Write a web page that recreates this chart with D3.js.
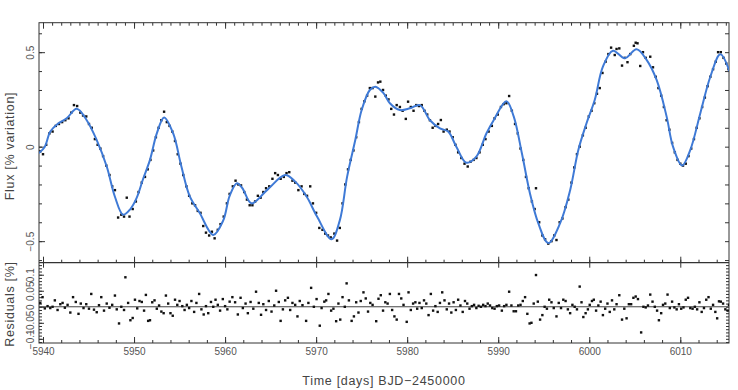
<!DOCTYPE html>
<html>
<head>
    <meta charset="utf-8">
    <script src="https://d3js.org/d3.v7.min.js"></script>
    <style type="text/css">
        body { margin: 0; background: #fff; }
        svg { display: block; font-family: "Liberation Sans", Arial, sans-serif; }
        .domain { stroke: none; }
        .tick line { stroke: #333; stroke-width: 1; }
        .tick text { fill: #555; font-size: 10px; }
        .title { fill: #444; font-size: 12.5px; letter-spacing: 0.7px; }
    </style>
</head>
<body>
<script type="text/javascript">

    var w = 738;
    var h = 390;

    // x tick labels (days, BJD-2450000)
    var timeTicks = [5940, 5950, 5960, 5970, 5980, 5990, 6000, 6010];
    var fluxTicks = [-0.5, 0, 0.5];
    var residTicks = [-0.1, -0.05, 0, 0.05, 0.1];

    // smooth model curve, knots [time, flux %]
    var modelCurve = [
        [5939.55, -0.034], [5940.2, 0.0], [5940.8, 0.08], [5941.6, 0.12], [5942.6, 0.15],
        [5943.7, 0.20], [5944.8, 0.14], [5945.9, 0.035], [5947.0, -0.105], [5947.9, -0.265],
        [5948.8, -0.36], [5949.6, -0.33], [5950.3, -0.27], [5951.0, -0.17], [5951.75, -0.07],
        [5952.5, 0.07], [5953.3, 0.155], [5954.3, 0.07], [5955.2, -0.105], [5956.1, -0.26],
        [5957.2, -0.35], [5958.7, -0.467], [5959.8, -0.39], [5960.5, -0.26], [5961.3, -0.194],
        [5961.9, -0.22], [5962.9, -0.30], [5964.6, -0.23], [5966.6, -0.15], [5967.7, -0.185],
        [5968.97, -0.265], [5970.1, -0.37], [5971.7, -0.49], [5972.6, -0.39], [5973.4, -0.16],
        [5974.3, 0.035], [5975.0, 0.194], [5975.9, 0.30], [5976.5, 0.317], [5977.4, 0.283],
        [5978.1, 0.23], [5979.2, 0.194], [5980.3, 0.203], [5981.4, 0.22], [5982.5, 0.14],
        [5983.6, 0.097], [5984.5, 0.08], [5985.4, 0.0], [5986.5, -0.085], [5987.6, -0.053],
        [5988.7, 0.07], [5989.5, 0.14], [5990.9, 0.24], [5991.7, 0.16], [5992.6, -0.035],
        [5993.5, -0.25], [5994.4, -0.405], [5995.5, -0.51], [5996.8, -0.405], [5997.9, -0.23],
        [5998.8, -0.017], [5999.7, 0.124], [6000.6, 0.247], [6001.5, 0.423], [6002.6, 0.508],
        [6003.9, 0.468], [6005.2, 0.515], [6006.3, 0.459], [6007.4, 0.353], [6008.5, 0.159],
        [6009.2, 0.0], [6010.2, -0.10], [6011.1, -0.017], [6012.2, 0.177], [6013.3, 0.37],
        [6014.4, 0.489], [6015.4, 0.40]
    ];

    // observed flux points [time, flux %]
    var fluxPoints = [
        [5939.7, -0.025], [5940.0, -0.04], [5940.35, 0.01], [5940.7, 0.07], [5941.05, 0.08],
        [5941.4, 0.11], [5941.75, 0.12], [5942.1, 0.13], [5942.45, 0.14], [5942.8, 0.15],
        [5943.1, 0.18], [5943.4, 0.22], [5943.75, 0.215], [5944.1, 0.18], [5944.4, 0.165],
        [5944.75, 0.16], [5945.05, 0.12], [5945.35, 0.10], [5945.7, 0.04], [5946.0, 0.01],
        [5946.3, -0.01], [5946.6, -0.05], [5946.95, -0.10], [5947.3, -0.15], [5947.6, -0.21],
        [5947.9, -0.23], [5948.25, -0.375], [5948.6, -0.36], [5948.9, -0.37], [5949.2, -0.27],
        [5949.5, -0.37], [5949.85, -0.33], [5950.2, -0.29], [5950.5, -0.24], [5950.85, -0.19],
        [5951.2, -0.16], [5951.5, -0.12], [5951.8, -0.07], [5952.1, -0.02], [5952.4, 0.05],
        [5952.7, 0.10], [5953.0, 0.14], [5953.3, 0.185], [5953.6, 0.13], [5953.9, 0.11],
        [5954.2, 0.08], [5954.5, 0.03], [5954.8, -0.04], [5955.1, -0.09], [5955.4, -0.15],
        [5955.75, -0.21], [5956.05, -0.26], [5956.4, -0.30], [5956.7, -0.31], [5957.0, -0.34],
        [5957.3, -0.35], [5957.6, -0.42], [5957.9, -0.455], [5958.25, -0.47], [5958.55, -0.45],
        [5958.85, -0.485], [5959.2, -0.44], [5959.5, -0.41], [5959.85, -0.37], [5960.2, -0.30],
        [5960.5, -0.25], [5960.85, -0.21], [5961.15, -0.18], [5961.45, -0.20], [5961.75, -0.205],
        [5962.1, -0.24], [5962.4, -0.28], [5962.7, -0.31], [5963.0, -0.31], [5963.3, -0.29],
        [5963.6, -0.26], [5963.9, -0.27], [5964.2, -0.24], [5964.5, -0.22], [5964.85, -0.21],
        [5965.2, -0.17], [5965.5, -0.14], [5965.8, -0.15], [5966.1, -0.17], [5966.45, -0.16],
        [5966.75, -0.14], [5967.05, -0.135], [5967.4, -0.18], [5967.7, -0.19], [5968.05, -0.23],
        [5968.4, -0.21], [5968.7, -0.25], [5969.0, -0.26], [5969.35, -0.21], [5969.65, -0.30],
        [5970.0, -0.35], [5970.35, -0.43], [5970.7, -0.44], [5971.0, -0.46], [5971.3, -0.47],
        [5971.6, -0.48], [5972.0, -0.46], [5972.3, -0.497], [5972.6, -0.43], [5972.9, -0.30],
        [5973.2, -0.20], [5973.5, -0.12], [5973.8, -0.07], [5974.1, -0.02], [5974.4, 0.05],
        [5974.7, 0.13], [5975.0, 0.20], [5975.3, 0.24], [5975.6, 0.27], [5975.9, 0.31],
        [5976.2, 0.31], [5976.5, 0.265], [5976.8, 0.34], [5977.05, 0.344], [5977.35, 0.30],
        [5977.65, 0.27], [5977.95, 0.25], [5978.25, 0.20], [5978.55, 0.17], [5978.85, 0.22],
        [5979.2, 0.21], [5979.5, 0.19], [5979.85, 0.147], [5980.1, 0.238], [5980.4, 0.21],
        [5980.7, 0.19], [5981.0, 0.22], [5981.3, 0.215], [5981.6, 0.22], [5981.9, 0.19],
        [5982.2, 0.17], [5982.5, 0.14], [5982.8, 0.10], [5983.1, 0.11], [5983.4, 0.12],
        [5983.7, 0.141], [5984.0, 0.08], [5984.35, 0.09], [5984.65, 0.08], [5985.0, 0.05],
        [5985.3, 0.01], [5985.6, -0.03], [5985.95, -0.06], [5986.3, -0.09], [5986.65, -0.105],
        [5986.95, -0.08], [5987.3, -0.07], [5987.6, -0.06], [5987.95, -0.03], [5988.3, 0.01],
        [5988.6, 0.04], [5988.95, 0.08], [5989.3, 0.11], [5989.6, 0.15], [5989.95, 0.17],
        [5990.3, 0.21], [5990.6, 0.225], [5990.9, 0.23], [5991.2, 0.268], [5991.5, 0.19],
        [5991.85, 0.12], [5992.15, 0.07], [5992.45, -0.01], [5992.75, -0.07], [5993.05, -0.16],
        [5993.35, -0.22], [5993.7, -0.29], [5994.0, -0.33], [5994.15, -0.22], [5994.5, -0.40],
        [5994.85, -0.47], [5995.15, -0.49], [5995.5, -0.513], [5995.85, -0.50], [5996.15, -0.47],
        [5996.4, -0.494], [5996.75, -0.40], [5997.05, -0.38], [5997.4, -0.32], [5997.7, -0.28],
        [5998.05, -0.19], [5998.35, -0.11], [5998.65, -0.04], [5998.95, 0.00], [5999.3, 0.06],
        [5999.6, 0.10], [5999.95, 0.16], [6000.25, 0.19], [6000.55, 0.23], [6000.85, 0.28],
        [6001.15, 0.31], [6001.45, 0.39], [6001.8, 0.45], [6002.1, 0.49], [6002.4, 0.524],
        [6002.8, 0.485], [6003.0, 0.517], [6003.3, 0.52], [6003.6, 0.429], [6003.9, 0.47],
        [6004.2, 0.447], [6004.5, 0.49], [6004.9, 0.534], [6005.1, 0.55], [6005.3, 0.547],
        [6005.6, 0.427], [6005.9, 0.50], [6006.2, 0.47], [6006.7, 0.476], [6007.0, 0.42],
        [6007.3, 0.37], [6007.6, 0.31], [6007.9, 0.27], [6008.2, 0.21], [6008.5, 0.14],
        [6008.8, 0.09], [6009.1, 0.02], [6009.4, -0.03], [6009.7, -0.07], [6010.0, -0.09],
        [6010.3, -0.10], [6010.6, -0.09], [6010.9, -0.05], [6011.2, -0.01], [6011.5, 0.04],
        [6011.8, 0.10], [6012.1, 0.15], [6012.4, 0.21], [6012.7, 0.26], [6013.0, 0.32],
        [6013.3, 0.37], [6013.6, 0.41], [6013.9, 0.45], [6014.15, 0.50], [6014.45, 0.50],
        [6014.75, 0.47], [6015.05, 0.44], [6015.3, 0.41]
    ];

    // residuals [time, %]
    var residPoints = [
        [5939.7, 0.012], [5939.95, 0.03], [5940.2, -0.005], [5940.5, 0.002], [5940.8, -0.004],
        [5941.05, 0.0], [5941.3, 0.02], [5941.6, -0.01], [5941.9, 0.008], [5942.15, 0.012],
        [5942.4, -0.003], [5942.7, 0.006], [5943.0, -0.018], [5943.3, 0.03], [5943.6, 0.015],
        [5943.9, -0.022], [5944.15, 0.01], [5944.45, -0.004], [5944.75, 0.008], [5945.05, -0.006],
        [5945.3, 0.04], [5945.6, -0.009], [5945.9, -0.017], [5946.15, 0.005], [5946.4, 0.03],
        [5946.7, -0.012], [5947.0, 0.01], [5947.3, -0.003], [5947.6, 0.006], [5947.9, 0.035],
        [5948.1, -0.008], [5948.35, -0.052], [5948.6, 0.0], [5948.9, -0.01], [5949.05, 0.092],
        [5949.35, 0.012], [5949.6, -0.042], [5949.85, -0.035], [5950.1, 0.022], [5950.35, -0.005],
        [5950.6, 0.018], [5950.85, 0.015], [5951.1, -0.012], [5951.3, 0.037], [5951.55, -0.044],
        [5951.75, -0.042], [5952.0, 0.014], [5952.25, 0.02], [5952.5, -0.006], [5952.75, 0.004],
        [5953.0, -0.015], [5953.25, -0.02], [5953.5, 0.035], [5953.75, 0.01], [5954.0, -0.02],
        [5954.25, -0.028], [5954.5, 0.022], [5954.75, 0.006], [5955.0, 0.018], [5955.3, 0.002],
        [5955.55, -0.01], [5955.8, 0.006], [5956.05, -0.004], [5956.3, 0.018], [5956.6, -0.016],
        [5956.85, 0.012], [5957.15, 0.04], [5957.4, -0.008], [5957.65, -0.024], [5957.9, 0.002],
        [5958.15, -0.02], [5958.45, 0.015], [5958.7, 0.0], [5958.95, 0.022], [5959.2, 0.006],
        [5959.45, -0.012], [5959.75, 0.024], [5960.0, 0.002], [5960.25, -0.008], [5960.5, 0.016],
        [5960.8, 0.03], [5961.1, 0.014], [5961.4, -0.024], [5961.7, 0.028], [5961.95, -0.004],
        [5962.25, 0.01], [5962.5, -0.02], [5962.8, 0.015], [5963.1, -0.006], [5963.4, 0.047],
        [5963.7, 0.012], [5963.95, -0.025], [5964.2, 0.008], [5964.5, -0.01], [5964.8, 0.018],
        [5965.1, -0.015], [5965.4, 0.004], [5965.6, 0.05], [5965.9, 0.015], [5966.1, -0.044],
        [5966.35, -0.008], [5966.6, 0.02], [5966.9, 0.028], [5967.15, -0.01], [5967.4, 0.012],
        [5967.7, 0.006], [5967.95, -0.03], [5968.2, 0.018], [5968.5, 0.005], [5968.9, -0.044],
        [5969.15, 0.012], [5969.45, 0.059], [5969.75, 0.0], [5970.05, 0.024], [5970.4, -0.059],
        [5970.6, -0.004], [5970.9, 0.016], [5971.1, 0.02], [5971.35, 0.04], [5971.65, -0.012],
        [5971.9, -0.006], [5972.2, -0.045], [5972.45, 0.01], [5972.65, -0.04], [5972.9, 0.03],
        [5973.15, 0.0], [5973.35, 0.073], [5973.6, 0.02], [5973.9, -0.044], [5974.15, -0.03],
        [5974.4, 0.014], [5974.65, -0.018], [5974.9, 0.018], [5975.2, 0.045], [5975.45, 0.026],
        [5975.7, -0.015], [5975.95, 0.012], [5976.2, 0.006], [5976.6, -0.045], [5976.85, 0.025],
        [5977.1, 0.036], [5977.35, -0.012], [5977.6, 0.014], [5977.85, 0.01], [5978.1, 0.04],
        [5978.35, -0.01], [5978.6, -0.03], [5978.85, -0.04], [5979.1, 0.04], [5979.35, 0.026],
        [5979.6, 0.006], [5979.95, -0.047], [5980.15, 0.045], [5980.4, -0.01], [5980.65, 0.01],
        [5980.9, 0.014], [5981.1, -0.006], [5981.35, 0.012], [5981.6, -0.004], [5981.85, 0.02],
        [5982.1, 0.01], [5982.35, -0.026], [5982.6, 0.04], [5982.85, -0.012], [5983.1, 0.002],
        [5983.35, -0.016], [5983.6, 0.012], [5983.85, 0.045], [5984.1, 0.02], [5984.35, -0.008],
        [5984.6, 0.01], [5984.85, -0.018], [5985.1, 0.014], [5985.35, -0.01], [5985.6, 0.022],
        [5985.85, 0.004], [5986.1, -0.016], [5986.35, 0.018], [5986.6, 0.01], [5986.85, -0.006],
        [5987.1, 0.002], [5987.35, 0.006], [5987.6, -0.004], [5987.85, 0.003], [5988.1, 0.0],
        [5988.35, 0.006], [5988.6, 0.002], [5988.85, 0.01], [5989.1, 0.004], [5989.35, -0.004],
        [5989.6, -0.006], [5989.85, 0.002], [5990.1, 0.004], [5990.4, -0.012], [5990.65, 0.002],
        [5990.9, 0.006], [5991.2, 0.047], [5991.45, 0.004], [5991.7, -0.014], [5991.95, -0.014],
        [5992.2, 0.004], [5992.45, 0.006], [5992.7, 0.018], [5992.95, 0.03], [5993.2, -0.022],
        [5993.45, -0.052], [5993.65, -0.05], [5993.9, 0.01], [5994.15, 0.099], [5994.35, 0.016],
        [5994.6, -0.04], [5994.85, -0.026], [5995.1, 0.0], [5995.35, -0.006], [5995.6, 0.022],
        [5995.85, 0.014], [5996.1, -0.004], [5996.4, -0.03], [5996.65, 0.012], [5996.9, -0.004],
        [5997.15, 0.022], [5997.4, 0.018], [5997.65, -0.008], [5997.9, -0.02], [5998.15, 0.006],
        [5998.4, 0.0], [5998.65, -0.008], [5998.95, 0.063], [5999.15, 0.014], [5999.35, -0.032],
        [5999.6, -0.02], [5999.85, -0.008], [6000.05, 0.006], [6000.3, 0.018], [6000.5, 0.022],
        [6000.75, -0.012], [6001.0, 0.004], [6001.25, 0.016], [6001.5, -0.026], [6001.75, -0.006],
        [6002.0, 0.01], [6002.25, -0.016], [6002.5, 0.02], [6002.75, -0.008], [6003.0, 0.008],
        [6003.3, 0.036], [6003.6, -0.04], [6003.85, -0.006], [6004.1, -0.036], [6004.35, 0.008],
        [6004.6, 0.008], [6004.85, 0.028], [6005.1, 0.032], [6005.35, 0.024], [6005.7, -0.08],
        [6005.95, 0.0], [6006.2, -0.002], [6006.45, 0.004], [6006.7, 0.038], [6006.95, 0.016],
        [6007.2, 0.0], [6007.45, -0.012], [6007.65, -0.042], [6007.9, -0.02], [6008.1, 0.006],
        [6008.35, 0.01], [6008.6, 0.038], [6008.85, -0.004], [6009.1, 0.016], [6009.35, -0.002],
        [6009.6, -0.008], [6009.85, 0.008], [6010.1, -0.006], [6010.35, -0.002], [6010.6, 0.022],
        [6010.85, 0.028], [6011.1, -0.004], [6011.35, -0.006], [6011.6, 0.0], [6011.85, -0.008],
        [6012.1, 0.014], [6012.35, -0.016], [6012.6, -0.004], [6012.85, 0.022], [6013.1, 0.03],
        [6013.35, -0.006], [6013.6, 0.006], [6013.85, -0.016], [6014.05, -0.036], [6014.25, 0.017],
        [6014.45, 0.016], [6014.7, 0.01], [6014.95, -0.008], [6015.2, -0.012], [6015.35, 0.006]
    ];

    // panel layout
    var left = 39, right = 729;
    var topY = 22.7, midY = 262.7, botY = 343;

    var svg = d3.select("body").append("svg")
        .attr("width", w)
        .attr("height", h);

    var xScale = d3.scaleLinear().domain([5939.56, 6015.35]).range([left, right]);
    var yFlux = d3.scaleLinear().domain([-0.614, 0.656]).range([midY, topY]);
    var yRes = d3.scaleLinear().domain([-0.113, 0.1375]).range([botY, midY]);

    svg.append("defs").append("clipPath").attr("id", "clipTop")
        .append("rect").attr("x", left).attr("y", topY)
        .attr("width", right - left).attr("height", midY - topY);
    svg.select("defs").append("clipPath").attr("id", "clipBot")
        .append("rect").attr("x", left).attr("y", midY)
        .attr("width", right - left).attr("height", botY - midY);

    var fmt = function(d) { return d3.format("~g")(d); };

    // minor tick lists
    var dayTicks = d3.range(5940, 6016, 1);
    var twoDayTicks = d3.range(5940, 6016, 2);
    var fluxMinor = d3.range(-6, 7).map(function(d) { return d / 10; });
    var resMinor = d3.range(-11, 14).map(function(d) { return d / 100; });

    function addAxis(axis, tx, ty) {
        return svg.append("g").attr("transform", "translate(" + tx + "," + ty + ")").call(axis);
    }

    // top edge of flux panel
    addAxis(d3.axisTop(xScale).tickValues(dayTicks).tickSize(-3).tickFormat(""), 0, topY);
    addAxis(d3.axisTop(xScale).tickValues(timeTicks).tickSize(-6).tickFormat(""), 0, topY);
    // boundary between panels
    addAxis(d3.axisTop(xScale).tickValues(twoDayTicks).tickSize(3).tickFormat(""), 0, midY);
    addAxis(d3.axisTop(xScale).tickValues(timeTicks).tickSize(6).tickFormat(""), 0, midY);
    addAxis(d3.axisBottom(xScale).tickValues(timeTicks).tickSize(5).tickFormat(""), 0, midY);
    // bottom axis
    addAxis(d3.axisBottom(xScale).tickValues(twoDayTicks).tickSize(-3).tickFormat(""), 0, botY);
    addAxis(d3.axisBottom(xScale).tickValues(timeTicks).tickSize(-6).tickPadding(5).tickFormat(fmt), 0, botY);

    // flux y axes
    addAxis(d3.axisLeft(yFlux).tickValues(fluxMinor).tickSize(-3).tickFormat(""), left, 0);
    var fluxAxis = addAxis(d3.axisLeft(yFlux).tickValues(fluxTicks).tickSize(-6).tickFormat(fmt), left, 0);
    addAxis(d3.axisRight(yFlux).tickValues(fluxMinor).tickSize(-4).tickFormat(""), right, 0);

    // residual y axes
    addAxis(d3.axisLeft(yRes).tickValues(resMinor).tickSize(-3).tickFormat(""), left, 0);
    var resAxis = addAxis(d3.axisLeft(yRes).tickValues(residTicks).tickSize(-5).tickFormat(fmt), left, 0);
    addAxis(d3.axisRight(yRes).tickValues(resMinor).tickSize(-3).tickFormat(""), right, 0);

    // rotate y tick labels like the original
    [fluxAxis, resAxis].forEach(function(g) {
        g.selectAll(".tick text")
            .attr("transform", "rotate(-90)")
            .attr("x", 0)
            .attr("y", -5.5)
            .attr("dy", 0)
            .attr("text-anchor", "middle");
    });

    // frames
    svg.append("rect").attr("x", left).attr("y", topY)
        .attr("width", right - left).attr("height", botY - topY)
        .attr("fill", "none").attr("stroke", "#333").attr("stroke-width", 1);
    svg.append("line").attr("x1", left).attr("x2", right)
        .attr("y1", midY).attr("y2", midY)
        .attr("stroke", "#333").attr("stroke-width", 1.2);

    // zero line of residuals
    svg.append("line").attr("x1", left).attr("x2", right)
        .attr("y1", yRes(0)).attr("y2", yRes(0))
        .attr("stroke", "#444").attr("stroke-width", 1);

    // flux data points
    var topG = svg.append("g").attr("clip-path", "url(#clipTop)");
    topG.selectAll("rect.pt")
        .data(fluxPoints)
        .enter()
        .append("rect")
        .attr("class", "pt")
        .attr("x", function(d) { return xScale(d[0]) - 1.2; })
        .attr("y", function(d) { return yFlux(d[1]) - 1.2; })
        .attr("width", 2.4)
        .attr("height", 2.4)
        .attr("fill", "#111");

    // model curve
    var line = d3.line()
        .x(function(d) { return xScale(d[0]); })
        .y(function(d) { return yFlux(d[1]); })
        .curve(d3.curveCatmullRom.alpha(0.5));

    topG.append("path")
        .datum(modelCurve)
        .attr("d", line)
        .attr("fill", "none")
        .attr("stroke", "#3f7ad6")
        .attr("stroke-width", 2);

    // residual points
    var botG = svg.append("g").attr("clip-path", "url(#clipBot)");
    botG.selectAll("rect.res")
        .data(residPoints)
        .enter()
        .append("rect")
        .attr("class", "res")
        .attr("x", function(d) { return xScale(d[0]) - 1.2; })
        .attr("y", function(d) { return yRes(d[1]) - 1.2; })
        .attr("width", 2.4)
        .attr("height", 2.4)
        .attr("fill", "#111");

    // axis titles
    svg.append("text").attr("class", "title")
        .attr("x", 384).attr("y", 385)
        .attr("text-anchor", "middle")
        .text("Time [days] BJD\u22122450000");

    svg.append("text").attr("class", "title")
        .attr("transform", "translate(14,146) rotate(-90)")
        .attr("text-anchor", "middle")
        .text("Flux [% variation]");

    svg.append("text").attr("class", "title")
        .attr("transform", "translate(14,304) rotate(-90)")
        .attr("text-anchor", "middle")
        .text("Residuals [%]");

</script>
</body>
</html>
